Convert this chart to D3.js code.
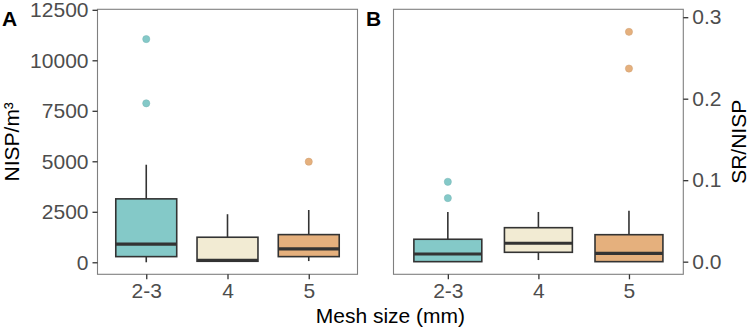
<!DOCTYPE html>
<html>
<head>
<meta charset="utf-8">
<script src="https://cdn.jsdelivr.net/npm/d3@7"></script>
<style>
  body { margin: 0; background: #fff; }
  svg { display: block; font-family: "Liberation Sans", Arial, sans-serif; }
</style>
</head>
<body>
<svg id="chart" width="750" height="336"></svg>
<script>
// mesh size categories
const categories = ["2-3", "4", "5"];
const fills = ["#84C9C8", "#F2EBD3", "#E5B07D"];

// panel A: NISP/m3 box summaries
const nispLow    = [0, 50, 60];
const nispQ1     = [280, 50, 280];
const nispMedian = [900, 100, 660];
const nispQ3     = [3140, 1240, 1370];
const nispHigh   = [4830, 2380, 2590];
const nispOut    = [[11050, 7870], [], [4980]];
const nispTicks  = [0, 2500, 5000, 7500, 10000, 12500];

// panel B: SR/NISP box summaries
const srLow    = [0, 0.002, 0];
const srQ1     = [0, 0.0115, 0];
const srMedian = [0.0094, 0.0226, 0.0103];
const srQ3     = [0.0275, 0.0417, 0.0331];
const srHigh   = [0.061, 0.061, 0.0626];
const srOut    = [[0.098, 0.078], [], [0.282, 0.237]];
const srTicks  = [0.0, 0.1, 0.2, 0.3];

const svg = d3.select("#chart");
const plotTop = 9.3, plotBottom = 274.3;
const fontSize = "21px";

function panel(opts) {
  const g = svg.append("g");
  const x = d3.scalePoint().domain(categories).range([opts.left, opts.right]).padding(0.6);
  const y = d3.scaleLinear().domain(opts.domain).range([plotBottom, plotTop]);
  const bw = x.step() * 0.75;

  const rows = categories.map((c, i) => ({
    c, i, lo: opts.low[i], q1: opts.q1[i], med: opts.median[i],
    q3: opts.q3[i], hi: opts.high[i], out: opts.out[i]
  }));

  // panel border
  g.append("rect")
    .attr("x", opts.left).attr("y", plotTop)
    .attr("width", opts.right - opts.left).attr("height", plotBottom - plotTop)
    .attr("fill", "#fff").attr("stroke", "#7F7F7F").attr("stroke-width", 1.1);

  const box = g.selectAll(".box").data(rows).join("g").attr("class", "box");

  // whiskers
  box.append("line")
    .attr("x1", d => x(d.c)).attr("x2", d => x(d.c))
    .attr("y1", d => y(d.q3)).attr("y2", d => y(d.hi))
    .attr("stroke", "#333").attr("stroke-width", 1.6);
  box.append("line")
    .attr("x1", d => x(d.c)).attr("x2", d => x(d.c))
    .attr("y1", d => y(d.q1)).attr("y2", d => y(d.lo))
    .attr("stroke", "#333").attr("stroke-width", 1.6);

  box.append("rect")
    .attr("x", d => x(d.c) - bw / 2).attr("width", bw)
    .attr("y", d => y(d.q3)).attr("height", d => y(d.q1) - y(d.q3))
    .attr("fill", d => fills[d.i]).attr("stroke", "#333").attr("stroke-width", 1.6);

  box.append("line")
    .attr("x1", d => x(d.c) - bw / 2).attr("x2", d => x(d.c) + bw / 2)
    .attr("y1", d => y(d.med)).attr("y2", d => y(d.med))
    .attr("stroke", "#333").attr("stroke-width", 3.2);

  box.selectAll("circle").data(d => d.out.map(v => ({ v, i: d.i, c: d.c })))
    .join("circle")
    .attr("cx", d => x(d.c)).attr("cy", d => y(d.v)).attr("r", 3.6)
    .attr("fill", d => fills[d.i]).attr("stroke", d => d3.color(fills[d.i]).darker(0.3)).attr("stroke-width", 0.5);

  // x axis
  const xa = g.append("g").attr("transform", `translate(0,${plotBottom})`)
    .call(d3.axisBottom(x).tickSize(5).tickPadding(4));
  xa.select(".domain").remove();
  xa.selectAll("line").attr("stroke", "#333").attr("stroke-width", 1.3);
  xa.selectAll("text").attr("fill", "#4D4D4D").style("font-size", fontSize);

  // y axis
  const axis = opts.side === "left" ? d3.axisLeft(y) : d3.axisRight(y);
  const ya = g.append("g").attr("transform", `translate(${opts.side === "left" ? opts.left : opts.right},0)`)
    .call(axis.tickValues(opts.ticks).tickFormat(opts.fmt).tickSize(5).tickPadding(4));
  ya.select(".domain").remove();
  ya.selectAll("line").attr("stroke", "#333").attr("stroke-width", 1.3);
  ya.selectAll("text").attr("fill", "#4D4D4D").style("font-size", fontSize);

  svg.append("text")
    .attr("x", opts.tagX).attr("y", 26)
    .attr("font-weight", "bold").style("font-size", fontSize)
    .text(opts.tag);
}

panel({
  left: 97.5, right: 357.5, domain: [-595, 12525], side: "left",
  low: nispLow, q1: nispQ1, median: nispMedian, q3: nispQ3, high: nispHigh, out: nispOut,
  ticks: nispTicks, fmt: d3.format("d"), tag: "A", tagX: 2
});

panel({
  left: 393.5, right: 683.3, domain: [-0.0155, 0.3097], side: "right",
  low: srLow, q1: srQ1, median: srMedian, q3: srQ3, high: srHigh, out: srOut,
  ticks: srTicks, fmt: d3.format(".1f"), tag: "B", tagX: 366
});

const midY = (plotTop + plotBottom) / 2;

svg.append("text")
  .attr("transform", `translate(19,${midY}) rotate(-90)`)
  .attr("text-anchor", "middle").style("font-size", fontSize)
  .text("NISP/m³");

svg.append("text")
  .attr("transform", `translate(746,${midY}) rotate(-90)`)
  .attr("text-anchor", "middle").style("font-size", fontSize)
  .text("SR/NISP");

svg.append("text")
  .attr("x", (97.5 + 683.3) / 2).attr("y", 323)
  .attr("text-anchor", "middle").style("font-size", fontSize)
  .text("Mesh size (mm)");
</script>
</body>
</html>
